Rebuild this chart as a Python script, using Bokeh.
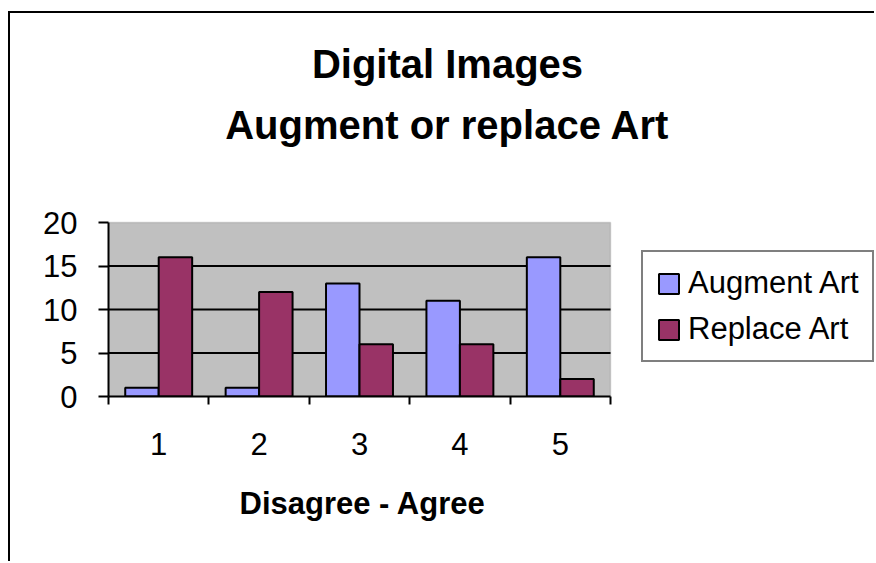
from bokeh.plotting import figure
from bokeh.models import (FixedTicker, Label, Legend, LegendItem, Range1d, Title,
                          ColumnDataSource, BoxAnnotation)
from bokeh.transform import dodge
from bokeh.embed import file_html
from bokeh.resources import INLINE

categories = [1, 2, 3, 4, 5]
augment_art = [1, 1, 13, 11, 16]
replace_art = [16, 12, 6, 6, 2]
y_ticks = [0, 5, 10, 15, 20]
series_names = ["Augment Art", "Replace Art"]
title_lines = ["Digital Images", "Augment or replace Art"]
x_label = "Disagree - Agree"

FONT = "Liberation Sans"
BLUE = "#9999FF"
PLUM = "#993366"
GRAY = "#C0C0C0"

# canvas layout (pixels)
W, H = 866, 550
PLOT_LEFT, PLOT_W = 98, 502          # gray plot area
PLOT_TOP, PLOT_H = 209, 174
BOTTOM = H - (PLOT_TOP + PLOT_H)

src = ColumnDataSource(dict(x=categories, a=augment_art, r=replace_art))
boundaries = [c - 0.5 for c in categories] + [categories[-1] + 0.5]

# frame covers the whole canvas to the right of / above the axes
x_per_px = (boundaries[-1] - boundaries[0]) / PLOT_W
y_per_px = (y_ticks[-1] - y_ticks[0]) / PLOT_H
x_end = boundaries[0] + (W - PLOT_LEFT) * x_per_px
y_end = y_ticks[0] + (PLOT_TOP + PLOT_H) * y_per_px

p = figure(width=W, height=H,
           x_range=Range1d(boundaries[0], x_end),
           y_range=Range1d(y_ticks[0], y_end),
           output_backend="svg", toolbar_location=None,
           min_border_left=PLOT_LEFT, min_border_right=0,
           min_border_top=0, min_border_bottom=BOTTOM)
p.styles = {"border-left": "2px solid #000000", "border-top": "2px solid #000000",
            "margin-top": "11px", "margin-left": "8px"}
p.title = None
p.background_fill_color = "white"
p.border_fill_color = "white"
p.outline_line_color = None
p.xgrid.visible = False
p.ygrid.visible = False

# gray plot area
p.add_layout(BoxAnnotation(left=boundaries[0], right=boundaries[-1],
                           bottom=y_ticks[0], top=y_ticks[-1],
                           fill_color=GRAY, fill_alpha=1,
                           line_color="#808080", line_width=1.5, level="underlay"))

# horizontal grid lines inside the plot area
gy = y_ticks[1:-1]
p.segment(x0=[boundaries[0]] * len(gy), x1=[boundaries[-1]] * len(gy), y0=gy, y1=gy,
          line_color="black", line_width=2)

bw = 1 / 3
r1 = p.vbar(x=dodge("x", -bw / 2, range=p.x_range), top="a", width=bw, source=src,
            fill_color=BLUE, line_color="black", line_width=2)
r2 = p.vbar(x=dodge("x", bw / 2, range=p.x_range), top="r", width=bw, source=src,
            fill_color=PLUM, line_color="black", line_width=2)

# x axis
xa = p.xaxis[0]
xa.bounds = (boundaries[0], boundaries[-1])
xa.ticker = FixedTicker(ticks=categories, minor_ticks=boundaries)
xa.major_tick_line_color = None
xa.minor_tick_in = 0
xa.minor_tick_out = 8
xa.minor_tick_line_width = 2
xa.minor_tick_line_color = "black"
xa.axis_line_width = 2
xa.axis_line_color = "black"
xa.major_label_text_font = FONT
xa.major_label_text_font_size = "31px"
xa.major_label_text_color = "black"
xa.major_label_standoff = 28

# x axis title, centred under the plot area
p.add_layout(Title(text=x_label, align="left", offset=131, vertical_align="top",
                   standoff=56, text_font=FONT, text_font_size="31px",
                   text_font_style="bold", text_color="black"), "below")

# y axis
ya = p.yaxis[0]
ya.bounds = (y_ticks[0], y_ticks[-1])
ya.ticker = FixedTicker(ticks=y_ticks)
ya.minor_tick_line_color = None
ya.major_tick_in = 0
ya.major_tick_out = 10
ya.major_tick_line_width = 2
ya.major_tick_line_color = "black"
ya.axis_line_width = 2
ya.axis_line_color = "black"
ya.major_label_text_font = FONT
ya.major_label_text_font_size = "31px"
ya.major_label_text_color = "black"
ya.major_label_standoff = 21

# titles (screen units from the frame's bottom-left corner)
for txt, yy in zip(title_lines, [333, 272]):
    p.add_layout(Label(x=339, y=yy, x_units="screen", y_units="screen", text=txt,
                       text_align="center", text_baseline="alphabetic",
                       text_font=FONT, text_font_size="40px", text_font_style="bold",
                       text_color="black"))

legend = Legend(items=[LegendItem(label=series_names[0], renderers=[r1]),
                       LegendItem(label=series_names[1], renderers=[r2])],
                location=(533, 34), orientation="vertical",
                border_line_color="black", border_line_width=2,
                background_fill_color="white", background_fill_alpha=1,
                label_text_font=FONT, label_text_font_size="31px",
                label_text_color="black",
                glyph_width=25, glyph_height=25, label_standoff=7,
                padding=13, spacing=10, margin=0)
p.add_layout(legend, "center")

open("out.html", "w").write(file_html(p, INLINE))
